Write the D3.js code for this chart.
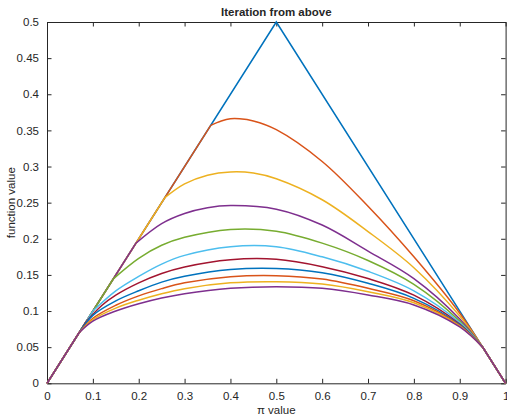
<!DOCTYPE html>
<html>
<head>
<meta charset="utf-8">
<script src="https://cdn.jsdelivr.net/npm/d3@7"></script>
<style>
  body { margin: 0; background: #fff; }
  svg text { font-family: "Liberation Sans", Arial, sans-serif; fill: #262626; }
</style>
</head>
<body>
<div id="T"></div>
<script>
// tent (initial function)
const tentX = [0, 0.5, 1];
const tentY = [0, 0.5, 0];

// iterations: break point on the left line, curve points, join at 0.95
const iterBreak = [0.357, 0.257, 0.194, 0.1446, 0.1, 0.085, 0.07, 0.07, 0.07, 0.07];
const iterX = [
  [0.38, 0.4, 0.42, 0.45, 0.5, 0.6, 0.7, 0.8, 0.9],
  [0.3, 0.35, 0.4, 0.45, 0.5, 0.6, 0.7, 0.8, 0.9],
  [0.25, 0.3, 0.35, 0.4, 0.5, 0.6, 0.7, 0.8, 0.9],
  [0.2, 0.25, 0.3, 0.4, 0.5, 0.6, 0.7, 0.8, 0.9],
  [0.15, 0.2, 0.25, 0.3, 0.4, 0.5, 0.6, 0.7, 0.8, 0.9],
  [0.12, 0.15, 0.2, 0.25, 0.3, 0.4, 0.5, 0.6, 0.7, 0.8, 0.9],
  [0.1, 0.15, 0.2, 0.25, 0.3, 0.4, 0.5, 0.6, 0.7, 0.8, 0.9],
  [0.1, 0.15, 0.2, 0.25, 0.3, 0.4, 0.5, 0.6, 0.7, 0.8, 0.9],
  [0.1, 0.15, 0.2, 0.25, 0.3, 0.4, 0.5, 0.6, 0.7, 0.8, 0.9],
  [0.1, 0.15, 0.2, 0.25, 0.3, 0.4, 0.5, 0.6, 0.7, 0.8, 0.9]
];
const iterY = [
  [0.363, 0.366, 0.366, 0.363, 0.351, 0.307, 0.245, 0.175, 0.097],
  [0.276, 0.288, 0.2925, 0.291, 0.283, 0.254, 0.210, 0.160, 0.093],
  [0.221, 0.235, 0.243, 0.246, 0.241, 0.219, 0.183, 0.145, 0.089],
  [0.173, 0.191, 0.202, 0.213, 0.2105, 0.194, 0.170, 0.137, 0.086],
  [0.128, 0.148, 0.165, 0.177, 0.189, 0.189, 0.175, 0.155, 0.128, 0.084],
  [0.108, 0.122, 0.139, 0.152, 0.161, 0.171, 0.1716, 0.1614, 0.145, 0.122, 0.082],
  [0.094, 0.114, 0.128, 0.140, 0.148, 0.1575, 0.159, 0.153, 0.1384, 0.1176, 0.081],
  [0.090, 0.108, 0.121, 0.131, 0.139, 0.1475, 0.149, 0.1443, 0.1315, 0.1143, 0.080],
  [0.088, 0.104, 0.115, 0.124, 0.131, 0.139, 0.1406, 0.1374, 0.1268, 0.1115, 0.079],
  [0.086, 0.100, 0.110, 0.118, 0.124, 0.1315, 0.1337, 0.1315, 0.1222, 0.1084, 0.078]
];
const joinPt = [0.95, 0.05];

const colors = ["#0072BD", "#D95319", "#EDB120", "#7E2F8E", "#77AC30", "#4DBEEE", "#A2142F"];
const xTicks = [0, 0.1, 0.2, 0.3, 0.4, 0.5, 0.6, 0.7, 0.8, 0.9, 1];
const yTicks = [0, 0.05, 0.1, 0.15, 0.2, 0.25, 0.3, 0.35, 0.4, 0.45, 0.5];

const W = 507, H = 416;
const m = { left: 47, top: 22, right: 1.4, bottom: 32.7 };
const iw = W - m.left - m.right, ih = H - m.top - m.bottom;

const svg = d3.select("#T").append("svg").attr("width", W).attr("height", H);
const g = svg.append("g").attr("transform", `translate(${m.left},${m.top})`);

const x = d3.scaleLinear().domain([0, 1]).range([0, iw]);
const y = d3.scaleLinear().domain([0, 0.5]).range([ih, 0]);

const fmt = d => d === 0 ? "0" : String(d);
const tl = 4.5;

// axes (MATLAB style: ticks inside, box on)
g.append("g").attr("transform", `translate(0,${ih})`)
  .call(d3.axisBottom(x).tickValues(xTicks).tickFormat(fmt).tickSizeInner(-tl).tickSizeOuter(0).tickPadding(9))
  .call(a => a.selectAll("text").style("font-size", "11.5px"));
g.append("g")
  .call(d3.axisTop(x).tickValues(xTicks).tickFormat("").tickSizeInner(-tl).tickSizeOuter(0));
g.append("g")
  .call(d3.axisLeft(y).tickValues(yTicks).tickFormat(fmt).tickSizeInner(-tl).tickSizeOuter(0).tickPadding(8))
  .call(a => a.selectAll("text").style("font-size", "11.5px"));
g.append("g").attr("transform", `translate(${iw},0)`)
  .call(d3.axisRight(y).tickValues(yTicks).tickFormat("").tickSizeInner(-tl).tickSizeOuter(0));
g.selectAll(".domain, .tick line").attr("stroke", "#262626");

const straight = d3.line().x(d => x(d[0])).y(d => y(d[1]));
const smooth = d3.line().x(d => x(d[0])).y(d => y(d[1])).curve(d3.curveCatmullRom.alpha(0.5));

g.append("path")
  .attr("d", straight(tentX.map((v, i) => [v, tentY[i]])))
  .attr("fill", "none").attr("stroke", colors[0]).attr("stroke-width", 1.5);

iterBreak.forEach((b, k) => {
  const c = colors[(k + 1) % colors.length];
  const mid = [[b, b]].concat(iterX[k].map((v, i) => [v, iterY[k][i]]), [joinPt]);
  const s = g.append("g").attr("fill", "none").attr("stroke", c).attr("stroke-width", 1.5);
  s.append("path").attr("d", straight([[0, 0], [b, b]]));
  s.append("path").attr("d", smooth(mid));
  s.append("path").attr("d", straight([joinPt, [1, 0]]));
});

// labels
svg.append("text").attr("x", m.left + iw / 2).attr("y", 16)
  .attr("text-anchor", "middle").style("font-size", "11.5px").style("font-weight", "bold")
  .text("Iteration from above");
svg.append("text").attr("x", m.left + iw / 2).attr("y", 414)
  .attr("text-anchor", "middle").style("font-size", "11.5px")
  .text("π value");
svg.append("text").attr("transform", `translate(15,${m.top + ih / 2}) rotate(-90)`)
  .attr("text-anchor", "middle").style("font-size", "11.5px")
  .text("function value");
</script>
</body>
</html>
